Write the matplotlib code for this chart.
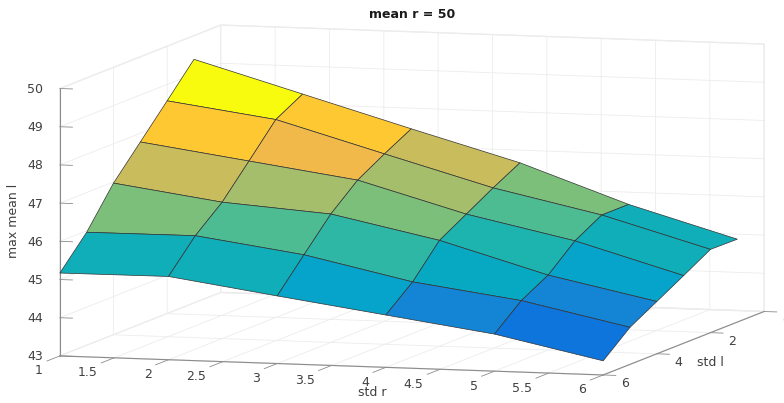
import numpy as np
import matplotlib
matplotlib.use('Agg')
import matplotlib.pyplot as plt
from matplotlib.colors import ListedColormap, Normalize
from mpl_toolkits.mplot3d import proj3d

std_r = [1, 2, 3, 4, 5, 6]
std_l = [1, 2, 3, 4, 5, 6]

# max mean l, one row per std l, one column per std r
row_l1 = [49.38, 48.57, 47.76, 46.97, 45.98, 45.17]
row_l2 = [48.57, 48.18, 47.38, 46.59, 45.98, 45.18]
row_l3 = [47.77, 47.37, 46.97, 46.18, 45.58, 44.77]
row_l4 = [46.97, 46.57, 46.36, 45.77, 44.96, 44.37]
row_l5 = [45.96, 45.97, 45.57, 44.96, 44.57, 43.97]
row_l6 = [45.17, 45.18, 44.77, 44.37, 43.97, 43.37]

x_ticks = [1, 1.5, 2, 2.5, 3, 3.5, 4, 4.5, 5, 5.5, 6]
x_labels = ['1', '1.5', '2', '2.5', '3', '3.5', '4', '4.5', '5', '5.5', '6']
y_ticks = [0, 2, 4, 6]
z_ticks = [43, 44, 45, 46, 47, 48, 49, 50]

# matlab parula(64)
parula = ListedColormap([
    (0.2081, 0.1663, 0.5292), (0.2116, 0.1898, 0.5777), (0.2123, 0.2138, 0.6270), (0.2081, 0.2386, 0.6771),
    (0.1959, 0.2645, 0.7279), (0.1707, 0.2919, 0.7792), (0.1253, 0.3242, 0.8303), (0.0591, 0.3598, 0.8683),
    (0.0117, 0.3875, 0.8820), (0.0060, 0.4086, 0.8828), (0.0165, 0.4266, 0.8786), (0.0329, 0.4430, 0.8720),
    (0.0498, 0.4586, 0.8641), (0.0629, 0.4737, 0.8554), (0.0723, 0.4887, 0.8467), (0.0779, 0.5040, 0.8384),
    (0.0793, 0.5200, 0.8312), (0.0749, 0.5375, 0.8263), (0.0641, 0.5570, 0.8240), (0.0488, 0.5772, 0.8228),
    (0.0343, 0.5966, 0.8199), (0.0265, 0.6137, 0.8135), (0.0239, 0.6287, 0.8038), (0.0231, 0.6418, 0.7913),
    (0.0228, 0.6535, 0.7768), (0.0267, 0.6642, 0.7607), (0.0384, 0.6743, 0.7436), (0.0590, 0.6838, 0.7254),
    (0.0843, 0.6928, 0.7062), (0.1133, 0.7015, 0.6859), (0.1453, 0.7098, 0.6646), (0.1801, 0.7177, 0.6424),
    (0.2178, 0.7250, 0.6193), (0.2586, 0.7317, 0.5954), (0.3022, 0.7376, 0.5712), (0.3482, 0.7424, 0.5473),
    (0.3953, 0.7459, 0.5244), (0.4420, 0.7481, 0.5033), (0.4871, 0.7491, 0.4840), (0.5300, 0.7491, 0.4661),
    (0.5709, 0.7485, 0.4494), (0.6099, 0.7473, 0.4337), (0.6473, 0.7456, 0.4188), (0.6834, 0.7435, 0.4044),
    (0.7184, 0.7411, 0.3905), (0.7525, 0.7384, 0.3768), (0.7858, 0.7356, 0.3633), (0.8185, 0.7327, 0.3498),
    (0.8507, 0.7299, 0.3360), (0.8824, 0.7274, 0.3217), (0.9139, 0.7258, 0.3063), (0.9450, 0.7261, 0.2886),
    (0.9739, 0.7314, 0.2666), (0.9938, 0.7455, 0.2403), (0.9990, 0.7653, 0.2164), (0.9955, 0.7861, 0.1967),
    (0.9880, 0.8066, 0.1794), (0.9789, 0.8271, 0.1633), (0.9697, 0.8481, 0.1475), (0.9626, 0.8705, 0.1309),
    (0.9589, 0.8949, 0.1132), (0.9598, 0.9218, 0.0948), (0.9661, 0.9514, 0.0755), (0.9763, 0.9831, 0.0538)])

plt.rcParams['grid.color'] = '#ececec'
plt.rcParams['grid.linewidth'] = 0.6
plt.rcParams['font.size'] = 9

X, Y = np.meshgrid(std_r, std_l)
Z = np.array([row_l1, row_l2, row_l3, row_l4, row_l5, row_l6])
colors = parula(Normalize(Z.min(), Z.max())(Z))

W, H = 784, 403
fig = plt.figure(figsize=(W / 100, H / 100), dpi=100)
# the 3d axes stays square, so it runs past the figure on top and bottom
ax = fig.add_axes([9.4 / W, -199.6 / H, 1, W / H], projection='3d', proj_type='ortho')
ax.view_init(elev=6.75, azim=-73.4)
ax.set_box_aspect((567, 563.5, 269.3), zoom=1.0444)

ax.plot_surface(X, Y, Z, facecolors=colors, rstride=1, cstride=1, shade=False,
                edgecolor='#333333', linewidth=0.5)

ax.set_xlim(1, 6, view_margin=0)
ax.set_ylim(6, 0, view_margin=0)
ax.set_zlim(43, 50, view_margin=0)
ax.set_xticks(x_ticks)
ax.set_yticks(y_ticks)
ax.set_zticks(z_ticks)
ax.set_xticklabels([])
ax.set_yticklabels([])
ax.set_zticklabels([])
ax.tick_params(color='#8c8c8c', width=0.6)
ax.zaxis.set_ticks_position('upper')

for axis in (ax.xaxis, ax.yaxis, ax.zaxis):
    axis.set_pane_color((1, 1, 1, 1))
    axis.pane.set_edgecolor('#ececec')
    axis.line.set_color('#8c8c8c')
    axis.line.set_linewidth(0.8)
    axis._axinfo['tick']['inward_factor'] = 0
    axis._axinfo['tick']['linewidth'] = {True: 0.6, False: 0.4}
ax.xaxis._axinfo['tick']['outward_factor'] = -1.0
ax.yaxis._axinfo['tick']['outward_factor'] = -0.29
ax.zaxis._axinfo['tick']['outward_factor'] = -0.29


def tick_text(label, x, y, z, dx, dy, ha):
    # pad on 3d ticks moves labels off the tick direction, so place them from the projection
    px, py, _ = proj3d.proj_transform(x, y, z, ax.get_proj())
    ax.annotate(label, (px, py), xytext=(dx, dy), textcoords='offset pixels',
                ha=ha, va='center', fontsize=9, color='#404040', annotation_clip=False)


for v, s in zip(x_ticks, x_labels):
    tick_text(s, v, 6, 43, -17, -15, 'right')
for v in y_ticks:
    tick_text(str(v), 6, v, 43, 17.5, -9, 'left')
for v in z_ticks:
    tick_text(str(v), 1, 6, v, -17, -1, 'right')

fig.text(412 / W, 1 - 14 / H, 'mean r = 50', ha='center', va='center', fontsize=9, fontweight='bold', color='#1a1a1a')
fig.text(372 / W, 1 - 392.5 / H, 'std r', ha='center', va='center', fontsize=9, color='#404040')
fig.text(710.5 / W, 1 - 363 / H, 'std l', ha='center', va='center', fontsize=9, color='#404040')
fig.text(14 / W, 1 - 221 / H, 'max mean l', ha='center', va='center', rotation=90, fontsize=9, color='#404040')

fig.savefig('out.png', dpi=100)
